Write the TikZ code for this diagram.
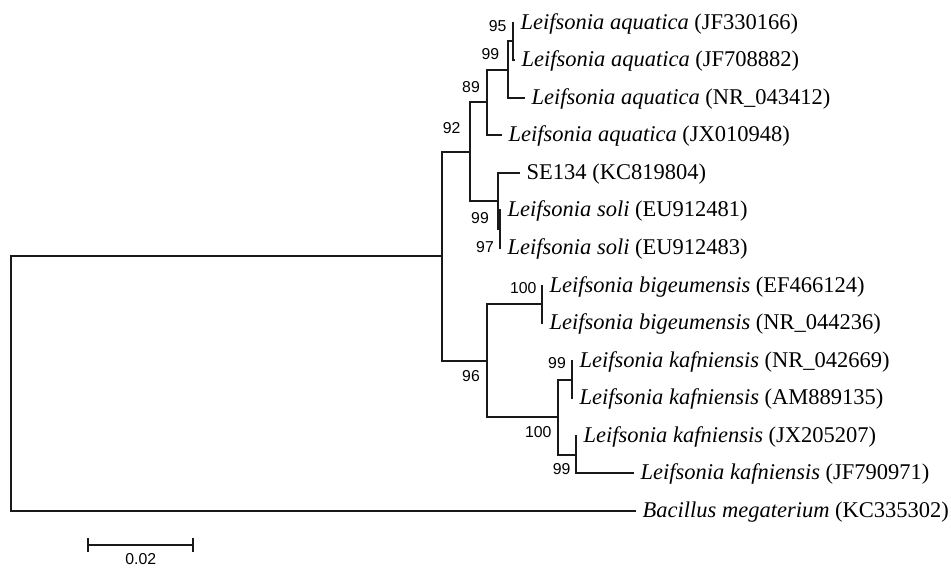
\documentclass[tikz,border=0pt]{standalone}
\usepackage{fontspec}
\setmainfont{Liberation Serif}
\newfontfamily\numfont{Liberation Sans}
\begin{document}
\begin{tikzpicture}[x=1pt,y=-1pt,
  branch/.style={line width=2pt,draw=black!90,line join=miter},
  leaflab/.style={anchor=base west,inner sep=0pt,xshift=6.5pt,yshift=-6.8pt,
    font=\fontsize{22.5}{27}\selectfont},
  boot/.style={anchor=east,inner sep=0pt,font=\numfont\fontsize{15.8}{18}\selectfont},
  scalelab/.style={anchor=center,inner sep=0pt,font=\numfont\fontsize{15.8}{18}\selectfont}]
\useasboundingbox (0,0) rectangle (951,570);
% internal nodes
\coordinate (root) at (11,384);
\coordinate (ing) at (442,256);
\coordinate (A) at (470,152);
\coordinate (B) at (487,102);
\coordinate (C) at (508,70);
\coordinate (D) at (513,41);
\coordinate (J) at (498,201);
\coordinate (K) at (500,229);
\coordinate (E) at (487,361);
\coordinate (F) at (542,304);
\coordinate (G) at (558,417);
\coordinate (H) at (572,380);
\coordinate (I) at (576,455);
% leaves
\coordinate (l0) at (514,23);
\coordinate (l1) at (515,60);
\coordinate (l2) at (525,98);
\coordinate (l3) at (502,135);
\coordinate (l4) at (520,173);
\coordinate (l5) at (501,210);
\coordinate (l6) at (501,248);
\coordinate (l7) at (543,286);
\coordinate (l8) at (543,323);
\coordinate (l9) at (573,361);
\coordinate (l10) at (573,398);
\coordinate (l11) at (577,436);
\coordinate (l12) at (634,473);
\coordinate (l13) at (636,511);
% branches
\draw[branch] (root) |- (ing);
\draw[branch] (root) |- (l13);
\draw[branch] (ing) |- (A);
\draw[branch] (ing) |- (E);
\draw[branch] (A) |- (B);
\draw[branch] (A) |- (J);
\draw[branch] (B) |- (C);
\draw[branch] (B) |- (l3);
\draw[branch] (C) |- (D);
\draw[branch] (C) |- (l2);
\draw[branch] (D) |- (l0);
\draw[branch] (D) |- (l1);
\draw[branch] (J) |- (l4);
\draw[branch] (J) |- (K);
\draw[branch] (K) |- (l5);
\draw[branch] (K) |- (l6);
\draw[branch] (E) |- (F);
\draw[branch] (E) |- (G);
\draw[branch] (F) |- (l7);
\draw[branch] (F) |- (l8);
\draw[branch] (G) |- (H);
\draw[branch] (G) |- (I);
\draw[branch] (H) |- (l9);
\draw[branch] (H) |- (l10);
\draw[branch] (I) |- (l11);
\draw[branch] (I) |- (l12);
% leaf labels
\node[leaflab] (t0) at (l0) {\textit{Leifsonia aquatica} (JF330166)};
\node[leaflab] (t1) at (l1) {\textit{Leifsonia aquatica} (JF708882)};
\node[leaflab] (t2) at (l2) {\textit{Leifsonia aquatica} (NR\_043412)};
\node[leaflab] (t3) at (l3) {\textit{Leifsonia aquatica} (JX010948)};
\node[leaflab] (t4) at (l4) {SE134 (KC819804)};
\node[leaflab] (t5) at (l5) {\textit{Leifsonia soli} (EU912481)};
\node[leaflab] (t6) at (l6) {\textit{Leifsonia soli} (EU912483)};
\node[leaflab] (t7) at (l7) {\textit{Leifsonia bigeumensis} (EF466124)};
\node[leaflab] (t8) at (l8) {\textit{Leifsonia bigeumensis} (NR\_044236)};
\node[leaflab] (t9) at (l9) {\textit{Leifsonia kafniensis} (NR\_042669)};
\node[leaflab] (t10) at (l10) {\textit{Leifsonia kafniensis} (AM889135)};
\node[leaflab] (t11) at (l11) {\textit{Leifsonia kafniensis} (JX205207)};
\node[leaflab] (t12) at (l12) {\textit{Leifsonia kafniensis} (JF790971)};
\node[leaflab] (t13) at (l13) {\textit{Bacillus megaterium} (KC335302)};
% bootstrap values
\node[boot] (bD) at (506.7,26) {95};
\node[boot] (bC) at (499.3,54) {99};
\node[boot] (bB) at (480,87.3) {89};
\node[boot] (bA) at (460.7,128.3) {92};
\node[boot] (bJ) at (489,218.3) {99};
\node[boot] (bK) at (494,246.7) {97};
\node[boot] (bF) at (536.7,288.3) {100};
\node[boot] (bE) at (480,376) {96};
\node[boot] (bH) at (566,362.7) {99};
\node[boot] (bG) at (551.7,431.7) {100};
\node[boot] (bI) at (570.7,469.3) {99};
% scale bar
\coordinate (s1) at (88,545);
\coordinate (s2) at (193,545);
\draw[branch] (s1) -- (s2);
\draw[branch] ([yshift=7pt]s1) -- ([yshift=-7pt]s1);
\draw[branch] ([yshift=7pt]s2) -- ([yshift=-7pt]s2);
\node[scalelab] (slab) at (140.7,559.5) {0.02};
\end{tikzpicture}
\end{document}
